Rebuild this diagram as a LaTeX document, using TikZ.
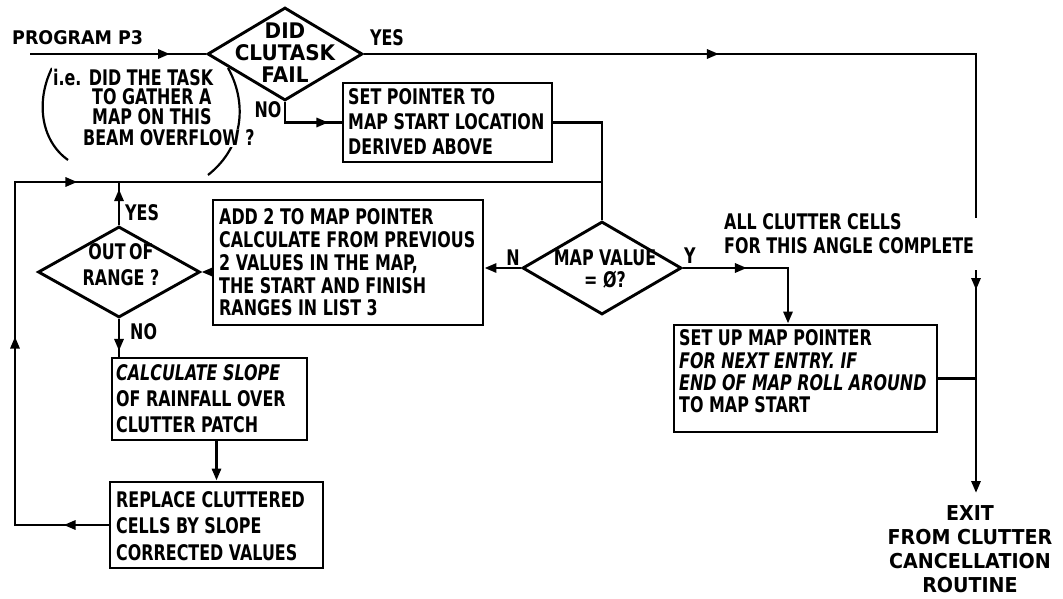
\documentclass[tikz,border=0pt]{standalone}
\usepackage{fontspec}
\setmainfont{DejaVu Sans}[FakeStretch=0.74]
\newfontfamily\widefont{DejaVu Sans}[FakeStretch=0.93]
\usetikzlibrary{arrows.meta,decorations.markings,shapes.geometric,calc}
\newcommand{\fsz}[2]{\fontsize{#1}{#2}\selectfont\bfseries}
\tikzset{
  flow/.style={line width=2.9pt, line join=miter},
  box/.style={draw, rectangle, line width=2.9pt, inner sep=0pt},
  dia/.style={draw, diamond, line width=2.9pt, inner sep=0pt},
  txt/.style={align=left, anchor=west, inner sep=0pt},
  lab/.style={inner sep=0pt, font={\fsz{21.5}{22}}},
  ann/.style={anchor=west, inner sep=1pt, fill=white, font={\fsz{21.5}{22}}},
  endarrow/.style={-{Triangle[length=12pt,width=9pt]}},
  midarr/.style={postaction={decorate},decoration={markings,
     mark=at position #1 with {\arrow{Triangle[length=12pt,width=9pt]}}}}
}
\begin{document}
\begin{tikzpicture}[x=1pt,y=-1pt]
\useasboundingbox (0,0) rectangle (1063,599);

% decisions
\node[dia, minimum width=155, minimum height=93] (d1) at (285,54) {};
\node[dia, minimum width=162, minimum height=91] (d2) at (119,272) {};
\node[dia, minimum width=159, minimum height=93] (d3) at (602,268) {};

% boxes
\node[box, minimum width=209, minimum height=79] (b2) at (447.5,122.5) {};
\node[box, minimum width=270, minimum height=125] (b1) at (348,262.5) {};
\node[box, minimum width=195, minimum height=82] (b3) at (209.5,399) {};
\node[box, minimum width=213, minimum height=86] (b4) at (216.5,525) {};
\node[box, minimum width=263, minimum height=107] (b5) at (805.5,378.5) {};

% box texts
\node[txt, font={\fsz{21.5}{25}}] (t2) at (348,122) {SET POINTER TO\\MAP START LOCATION\\DERIVED ABOVE};
\node[txt, font={\fsz{21.5}{22.75}}] (t1) at (219,262.5) {ADD 2 TO MAP POINTER\\CALCULATE FROM PREVIOUS\\2 VALUES IN THE MAP,\\THE START AND FINISH\\RANGES IN LIST 3};
\node[txt, font={\fsz{21.5}{26}}] (t3) at (116,399) {{\itshape CALCULATE SLOPE}\\OF RAINFALL OVER\\CLUTTER PATCH};
\node[txt, font={\fsz{21.5}{26.5}}] (t4) at (116,526) {REPLACE CLUTTERED\\CELLS BY SLOPE\\CORRECTED VALUES};
\node[txt, font={\fsz{21.5}{22.3}}] (t5) at (679,371.5) {SET UP MAP POINTER\\{\itshape FOR NEXT ENTRY. IF}\\{\itshape END OF MAP ROLL AROUND}\\TO MAP START};

% decision texts
\node[lab, align=center, font={\widefont\fsz{21.5}{22}}] (q1) at (285,53) {DID\\CLUTASK\\FAIL};
\node[lab, align=center, font={\fsz{21.5}{26}}] (q2) at (121,265) {OUT\hspace{-2pt} OF\\RANGE ?};
\node[lab, align=center, font={\fsz{21.5}{22}}] (q3) at (605,269) {MAP VALUE\\= Ø?};

% labels
\node[lab, anchor=west, font={\widefont\fsz{18.8}{20}}] (prog) at (12,38) {PROGRAM P3};
\node[lab] (yes1) at (387,38) {YES};
\node[lab] (no1) at (268,110) {NO};
\node[lab, anchor=west] (yes2) at (125,213) {YES};
\node[lab, anchor=west] (no2) at (130,332) {NO};
\node[lab] (nlab) at (513,258) {N};
\node[lab] (ylab) at (690,256) {Y};
\node[lab, align=left, anchor=west, font={\fsz{21.5}{24}}] (allc) at (724,234) {ALL CLUTTER CELLS\\FOR THIS ANGLE COMPLETE};
\node[lab, align=center, font={\widefont\fsz{20.5}{24}}] (exit) at (970,549) {EXIT\\FROM CLUTTER\\CANCELLATION\\ROUTINE};

% annotation with brackets
\draw[line width=2.2pt] (52,68) .. controls (36,100) and (40,140) .. (68,160);
\draw[line width=2.2pt] (228,68) .. controls (246,100) and (246,145) .. (208,175);
\node[ann] (a1) at (52,77) {i.e. DID THE TASK};
\node[ann] (a2) at (91,97) {TO GATHER A};
\node[ann] (a3) at (91,117) {MAP ON THIS};
\node[ann] (a4) at (82,138) {BEAM OVERFLOW ?};

% coordinates
\coordinate (start) at (30,54);
\coordinate (tr) at (976,54);
\coordinate (gaptop) at (976,218);
\coordinate (gapbot) at (976,270);
\coordinate (exittip) at (976,493);
\coordinate (j) at (602,182);
\coordinate (lb) at (15,525);
\coordinate (lt) at (15,182);
\coordinate (yc) at (788,268);

% connectors
\draw[flow, midarr=140pt] (start) -- (d1.west);
\draw[flow, midarr=355pt] (d1.east) -- (tr) -- (gaptop);
\draw[flow, midarr=20pt, endarrow] (gapbot) -- (exittip);
\draw[flow] (b5.east) -- (b5.east -| tr);
\draw[flow, midarr=64pt] (d1.south) -- (d1.south |- b2.west) -- (b2.west);
\draw[flow] (b2.east) -- (b2.east -| d3.north) -- (d3.north);
\draw[flow, postaction={decorate}, decoration={markings,
   mark=at position 45pt with {\arrow{Triangle[length=12pt,width=9pt]}},
   mark=at position 282pt with {\arrow{Triangle[length=12pt,width=9pt]}},
   mark=at position 499pt with {\arrow{Triangle[length=12pt,width=9pt]}}}]
   (b4.west) -- (lb) -- (lt) -- (j);
\draw[flow, midarr=36pt] (d2.north) -- (d2.north |- j);
\draw[flow, endarrow] (b1.west |- d2.east) -- (d2.east);
\draw[flow, midarr=32pt] (d2.south) -- (d2.south |- b3.north);
\draw[flow, endarrow] (b3.south -| b4.north) -- (b4.north);
\draw[flow, endarrow] (d3.west) -- (d3.west -| b1.east);
\draw[flow, midarr=64pt, endarrow] (d3.east) -- (yc) -- (yc |- b5.north);
\end{tikzpicture}
\end{document}
